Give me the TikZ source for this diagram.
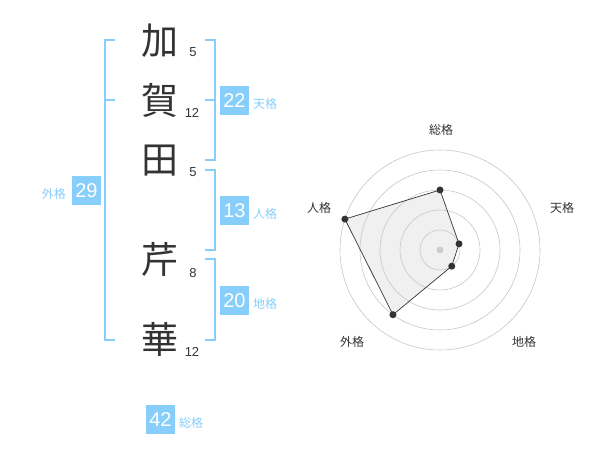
\documentclass[tikz,border=0pt]{standalone}
\usepackage{fontspec}
\setmainfont{Liberation Sans}
\newfontfamily\jp{Noto Sans CJK JP}
\definecolor{sky}{HTML}{87CEFA}
\definecolor{ink}{HTML}{333333}
\begin{document}
\begin{tikzpicture}[x=1pt,y=-1pt,
  kanji/.style={font=\jp\fontsize{37}{37}\selectfont,text=ink,inner sep=0},
  strokes/.style={font=\fontsize{13}{13}\selectfont,text=ink,inner sep=0},
  numbox/.style={fill=sky,text=white,minimum width=29pt,minimum height=29pt,inner sep=0,font=\fontsize{20}{20}\selectfont},
  kaku/.style={font=\jp\fontsize{12}{12}\selectfont,text=sky,inner sep=0},
  brk/.style={draw=sky,line width=1.5pt},
  ring/.style={draw=black!22,line width=0.6pt},
  rlabel/.style={font=\jp\fontsize{12}{12}\selectfont,text=ink,inner sep=0},
  dot/.style={circle,fill=ink,inner sep=0,minimum size=7pt}]
\useasboundingbox (0,0) rectangle (600,470);
% kanji
\node[kanji] (k1) at (160,41) {加};
\node[kanji] (k2) at (160,100) {賀};
\node[kanji] (k3) at (160,161) {田};
\node[kanji] (k4) at (160,259) {芹};
\node[kanji] (k5) at (160,339) {華};
\node[strokes] (s1) at (193,52) {5};
\node[strokes] (s2) at (192,113) {12};
\node[strokes] (s3) at (193,172) {5};
\node[strokes] (s4) at (193,273) {8};
\node[strokes] (s5) at (192,352) {12};
% brackets
\coordinate (a1) at (115,40); \coordinate (a2) at (105,40);
\coordinate (a3) at (105,340); \coordinate (a4) at (115,340);
\coordinate (am) at (105,100); \coordinate (an) at (115,100);
\draw[brk] (a1) -- (a2) -- (a3) -- (a4);
\draw[brk] (am) -- (an);
\coordinate (t1) at (205,40); \coordinate (t2) at (215,40);
\coordinate (t3) at (215,160); \coordinate (t4) at (205,160);
\coordinate (tm) at (215,100); \coordinate (tn) at (205,100);
\draw[brk] (t1) -- (t2) -- (t3) -- (t4);
\draw[brk] (tm) -- (tn);
\coordinate (j1) at (205,170); \coordinate (j2) at (215,170);
\coordinate (j3) at (215,250); \coordinate (j4) at (205,250);
\draw[brk] (j1) -- (j2) -- (j3) -- (j4);
\coordinate (c1) at (205,259); \coordinate (c2) at (215,259);
\coordinate (c3) at (215,340); \coordinate (c4) at (205,340);
\draw[brk] (c1) -- (c2) -- (c3) -- (c4);
% boxes
\node[numbox] (b22) at (234.5,100.5) {22};
\node[kaku,anchor=west] (l22) at (253,104) {天格};
\node[numbox] (b13) at (234.5,210.5) {13};
\node[kaku,anchor=west] (l13) at (253,214) {人格};
\node[numbox] (b20) at (234.5,300.5) {20};
\node[kaku,anchor=west] (l20) at (253,304) {地格};
\node[numbox] (b29) at (86.5,190.5) {29};
\node[kaku,anchor=east] (l29) at (66,194) {外格};
\node[numbox] (b42) at (160.5,419.5) {42};
\node[kaku,anchor=west] (l42) at (179,423) {総格};
% radar
\coordinate (O) at (440,250);
\path (O) ++(0,-60) coordinate (pS);
\path (O) ++(-18:20) coordinate (pT);
\path (O) ++(54:20) coordinate (pC);
\path (O) ++(126:80) coordinate (pG);
\path (O) ++(198:100) coordinate (pJ);
\fill[black!6] (pS) -- (pT) -- (pC) -- (pG) -- (pJ) -- cycle;
\foreach \r in {20,40,60,80,100} \draw[ring] (O) circle[radius=\r];
\fill[black!20] (O) circle[radius=3.5];
\draw[draw=ink,line width=0.7pt] (pS) -- (pT) -- (pC) -- (pG) -- (pJ) -- cycle;
\foreach \p in {pS,pT,pC,pG,pJ} \node[dot] at (\p) {};
\node[rlabel] (rS) at (441,130) {総格};
\node[rlabel] (rT) at (562,208) {天格};
\node[rlabel] (rJ) at (319,208) {人格};
\node[rlabel] (rG) at (352,342) {外格};
\node[rlabel] (rC) at (524,342) {地格};
\end{tikzpicture}
\end{document}
